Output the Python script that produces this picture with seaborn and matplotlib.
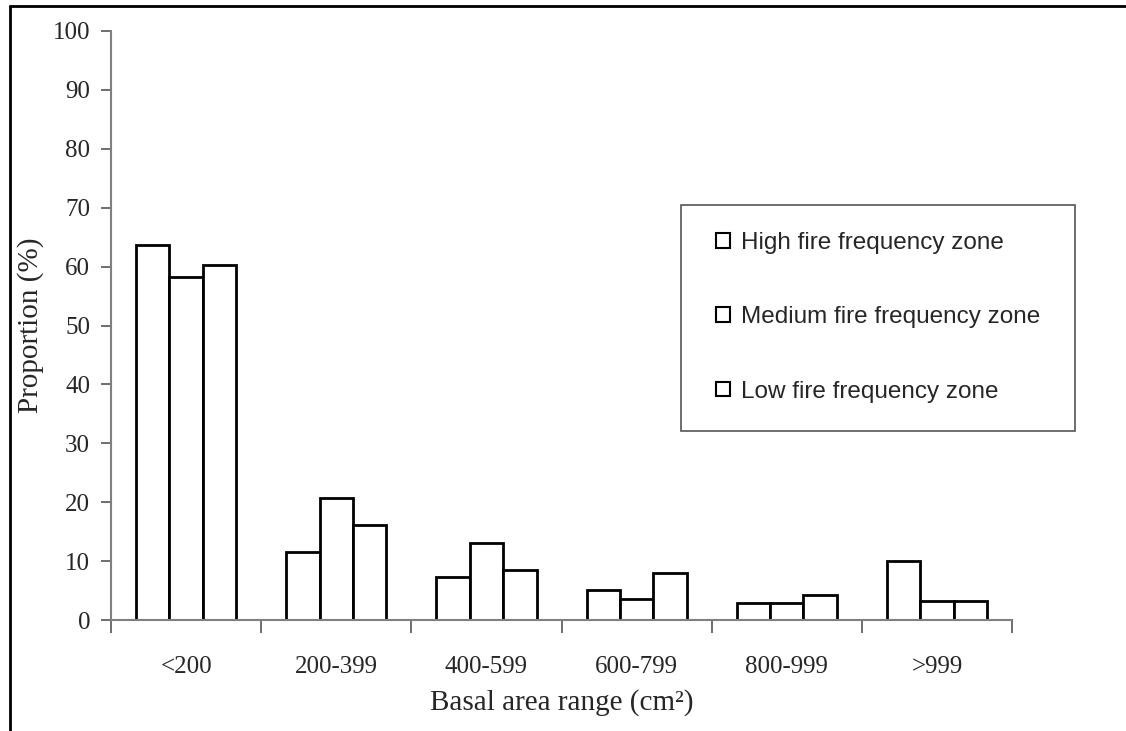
import pandas as pd
import seaborn as sns
import matplotlib.pyplot as plt
from matplotlib.patches import Patch, Rectangle
from matplotlib.lines import Line2D
from matplotlib.ticker import FixedLocator

ranges = ['<200', '200-399', '400-599', '600-799', '800-999', '>999']
zones = ['High fire frequency zone', 'Medium fire frequency zone', 'Low fire frequency zone']
high = [63.6, 11.6, 7.3, 5.1, 2.9, 10.0]
medium = [58.2, 20.8, 13.0, 3.6, 2.9, 3.2]
low = [60.2, 16.2, 8.5, 8.0, 4.2, 3.2]

df = pd.DataFrame({
    'range': ranges * 3,
    'zone': [zones[0]] * 6 + [zones[1]] * 6 + [zones[2]] * 6,
    'value': high + medium + low,
})

sns.set_style('white')
plt.rcParams['font.family'] = ['Liberation Serif', 'DejaVu Serif']

fig = plt.figure(figsize=(11.26, 7.31), dpi=100)
ax = fig.add_axes([0.0986, 0.1518, 0.8002, 0.8058])

sns.barplot(data=df, x='range', y='value', hue='zone', order=ranges, hue_order=zones,
            palette=['white'] * 3, edgecolor='black', linewidth=2, width=0.667,
            saturation=1, legend=False, ax=ax)

ax.set_xlim(-0.5, 5.5)
ax.set_ylim(0, 100)
ax.set_yticks(range(0, 101, 10))
ax.tick_params(axis='y', direction='out', length=7, width=1.2, color='#555555',
               labelsize=18, pad=8, left=True)
ax.tick_params(axis='x', which='major', length=0, labelsize=18, pad=26)
ax.xaxis.set_minor_locator(FixedLocator([i - 0.5 for i in range(7)]))
ax.tick_params(axis='x', which='minor', direction='out', length=9, width=1.2,
               color='#555555', bottom=True)

for s in ['top', 'right']:
    ax.spines[s].set_visible(False)
for s in ['left', 'bottom']:
    ax.spines[s].set_color('#808080')
    ax.spines[s].set_linewidth(1.5)

ax.set_xlabel('Basal area range (cm²)', fontsize=21, labelpad=8)
ax.set_ylabel('Proportion (%)', fontsize=21, labelpad=6)

# legend with its own box
fig.add_artist(Rectangle((681 / 1126, 1 - 431 / 731), (1075 - 681) / 1126, (431 - 205) / 731,
                         transform=fig.transFigure, facecolor='white',
                         edgecolor='#555555', linewidth=1.2, zorder=3))
handles = [Patch(facecolor='white', edgecolor='black', linewidth=1.5) for _ in zones]
leg = fig.legend(handles, zones, loc='upper left', bbox_to_anchor=(716 / 1126, 1 - 232 / 731),
                 frameon=False, prop={'family': 'Liberation Sans', 'size': 17.5},
                 handlelength=0.58, handleheight=0.55, handletextpad=0.45,
                 labelspacing=2.15, borderpad=0, borderaxespad=0)
leg.set_zorder(4)

# outer border lines (left and top)
fig.add_artist(Line2D([10 / 1126, 10 / 1126], [0, 1 - 6 / 731], transform=fig.transFigure,
                      color='black', linewidth=2))
fig.add_artist(Line2D([10 / 1126, 1], [1 - 6 / 731, 1 - 6 / 731], transform=fig.transFigure,
                      color='black', linewidth=2))

fig.savefig('out.png', dpi=100)
